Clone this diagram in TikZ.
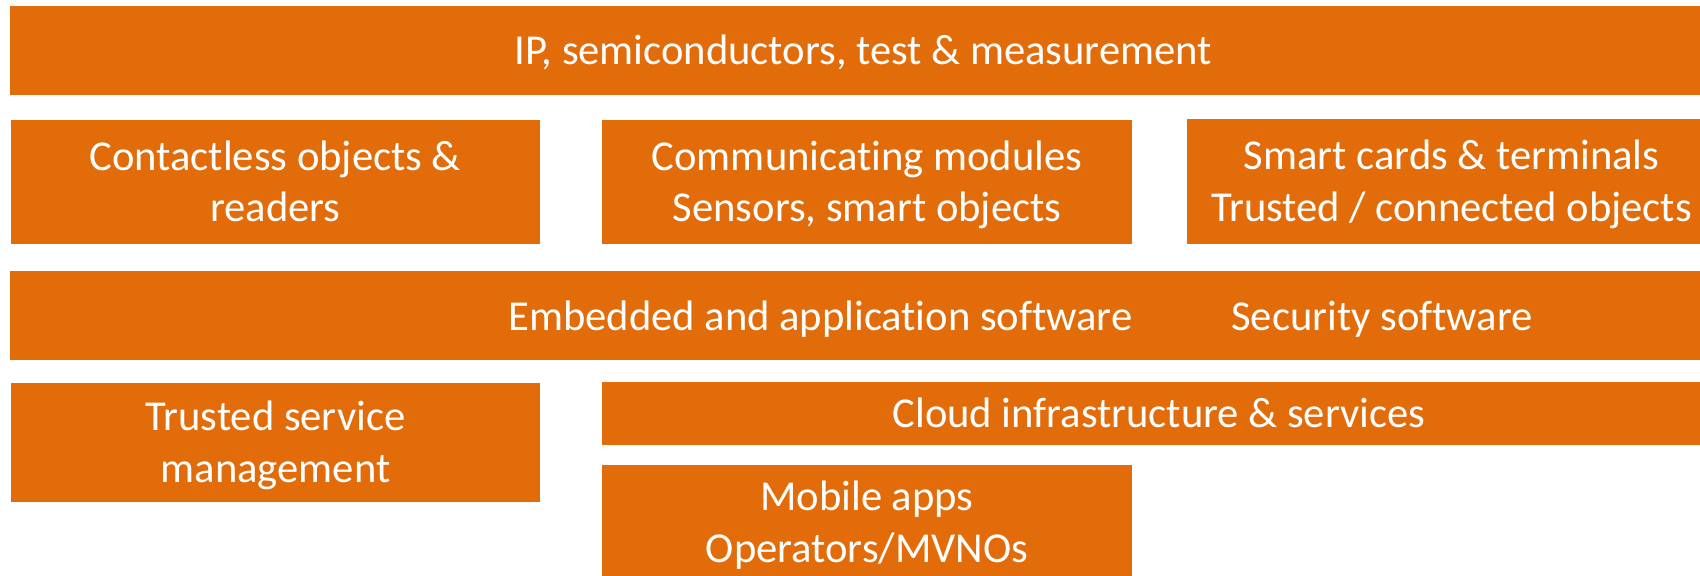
\documentclass[tikz,border=0pt]{standalone}
\usepackage{fontspec}
\setmainfont{Carlito}[Ligatures=NoCommon]
\definecolor{orng}{HTML}{E36C0A}
\newcommand\tstrx{\rule{0pt}{19pt}}
\newcommand\bstrx{\rule[-5pt]{0pt}{0pt}}
\tikzset{
  blk/.style={fill=orng, draw=none, inner sep=0pt, text=white, align=center,
    font=\fontsize{21.3}{25.8}\selectfont},
  txt/.style={inner sep=0pt, text=white, font=\fontsize{21.3}{25.8}\selectfont}
}
\begin{document}
\begin{tikzpicture}[x=0.5pt,y=-0.5pt]
\useasboundingbox (0,0) rectangle (1700,576);
\clip (0,0) rectangle (1700,576);
% top bar
\node[blk, minimum width=853pt, minimum height=44.35pt] (top) at (863,50.35) {\tstrx IP, semiconductors, test \& measurement\bstrx};
% second row
\node[blk, minimum width=264.25pt, minimum height=61.85pt] (cls) at (275.25,181.85) {\tstrx Contactless objects \&\\readers\bstrx};
\node[blk, minimum width=265pt, minimum height=61.6pt] (com) at (867,182.1) {\tstrx Communicating modules\\Sensors, smart objects\bstrx};
\node[blk, minimum width=264.5pt, minimum height=62.35pt] (smc) at (1451.5,181.35) {\tstrx Smart cards \& terminals\\Trusted / connected objects\bstrx};
% embedded bar
\node[blk, minimum width=853pt, minimum height=44.5pt] (emb) at (863,315.5) {};
\node[txt, anchor=base east] (embt) at (1133,330.5) {Embedded and application software};
\node[txt, anchor=base west] (sect) at (1231,330.5) {Security software};
% bottom rows
\node[blk, minimum width=264.5pt, minimum height=59.35pt] (tsm) at (275.5,442.35) {\tstrx Trusted service\\management\bstrx};
\node[blk, minimum width=557pt, minimum height=31.35pt] (cld) at (1159,413.35) {\tstrx Cloud infrastructure \& services\bstrx};
\node[blk, minimum width=265pt, minimum height=57.5pt] (mob) at (867,522.5) {\tstrx Mobile apps\\Operators/MVNOs\bstrx};
\end{tikzpicture}
\end{document}
